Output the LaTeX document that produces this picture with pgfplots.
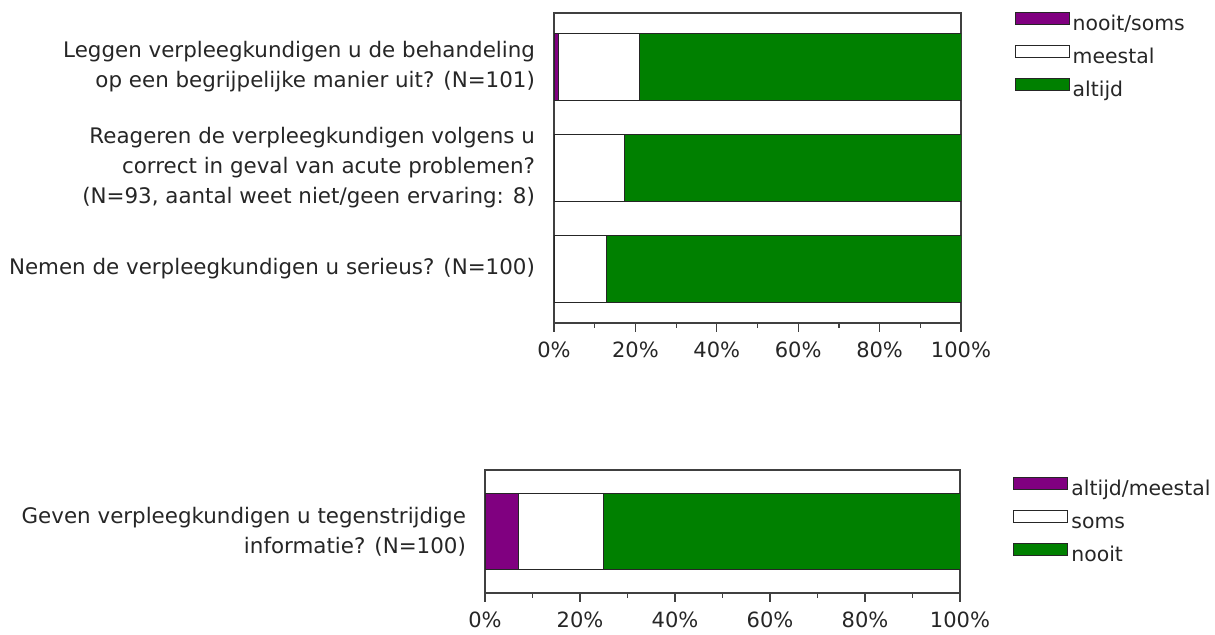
\documentclass[border=0pt]{standalone}
\usepackage{pgfplots}
\pgfplotsset{compat=1.18}
\usepackage{fontspec}
\setmainfont{DejaVu Sans}
\definecolor{cpurple}{HTML}{800080}
\definecolor{cgreen}{HTML}{008000}
\definecolor{cframe}{HTML}{404040}
\pgfplotsset{
 mystyle/.style={
  scale only axis,
  xbar stacked,
  xmin=0, xmax=100,
  enlargelimits=false,
  y dir=reverse,
  axis line style={cframe, line width=0.8pt},
  xtick={0,20,...,100},
  xticklabels={0\%,20\%,40\%,60\%,80\%,100\%},
  minor xtick={10,30,50,70,90},
  xtick pos=left, tick align=outside,
  major tick length=4.5pt, minor tick length=2.5pt,
  tick style={cframe, line width=0.6pt},
  ytick style={draw=none},
  ytick pos=left,
  ticklabel style={font=\fontsize{10.5}{15}\selectfont, text=black!85},
  xticklabel style={yshift=-1.5pt},
  yticklabel style={align=right, xshift=-1.5pt, font=\fontsize{10.7}{15}\selectfont},
  legend cell align=left,
  legend style={draw=none, fill=none, font=\fontsize{10.2}{15}\selectfont,
    text=black!85, anchor=north west, inner sep=0pt, row sep=5.5pt,
    nodes={inner xsep=1.5pt, inner ysep=0pt, text height=7.5pt, text depth=2pt}},
  legend image code/.code={\draw[##1] (0pt,0pt) rectangle (27pt,6pt);},
  every axis plot/.append style={draw=black!85, line width=0.5pt},
 }
}
\begin{document}
\begin{tikzpicture}[x=1pt,y=1pt]
\path[use as bounding box] (0,0) rectangle (607.5,317.5);
\begin{axis}[mystyle,
  at={(277pt,156pt)}, anchor=south west,
  width=203.5pt, height=155pt,
  ymin=-0.53, ymax=2.539,
  ytick={0,1,2},
  bar width=33.5pt,
  yticklabels={{Leggen verpleegkundigen u de behandeling\\op een begrijpelijke manier uit? (N=101)},
               {Reageren de verpleegkundigen volgens u\\correct in geval van acute problemen?\\(N=93, aantal weet niet/geen ervaring: 8)},
               {Nemen de verpleegkundigen u serieus? (N=100)}},
  legend style={at={(1.131,1.0032)}},
]
\addplot[fill=cpurple] coordinates {(1,0) (0,1) (0,2)};
\addplot[fill=white] coordinates {(20,0) (17.2,1) (13,2)};
\addplot[fill=cgreen] coordinates {(79,0) (82.8,1) (87,2)};
\legend{nooit/soms, meestal, altijd}
\end{axis}
\begin{axis}[mystyle,
  at={(242.5pt,21pt)}, anchor=south west,
  width=237.5pt, height=61.5pt,
  ymin=-0.5, ymax=0.5,
  ytick={0},
  bar width=38pt,
  yticklabels={{Geven verpleegkundigen u tegenstrijdige\\informatie? (N=100)}},
  legend style={at={(1.1116,0.943)}},
]
\addplot[fill=cpurple] coordinates {(7,0)};
\addplot[fill=white] coordinates {(18,0)};
\addplot[fill=cgreen] coordinates {(75,0)};
\legend{altijd/meestal, soms, nooit}
\end{axis}
\end{tikzpicture}
\end{document}
